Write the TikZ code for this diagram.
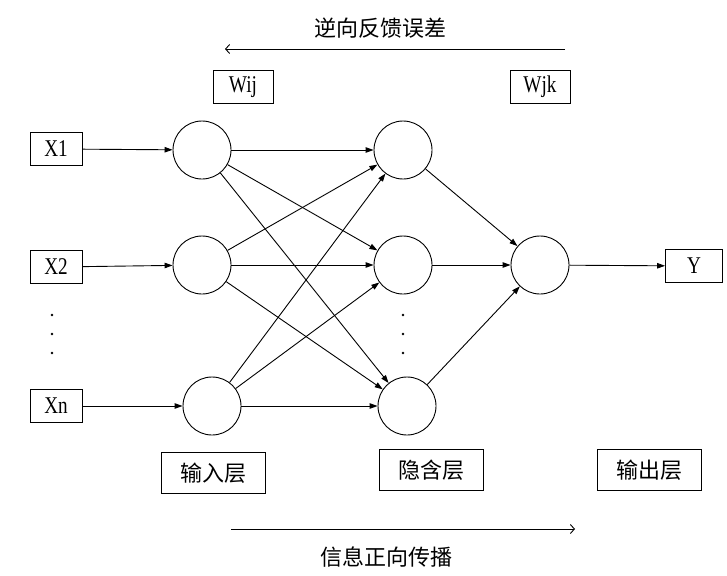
\documentclass[tikz,border=0pt]{standalone}
\usepackage{fontspec}
\setmainfont{Liberation Serif}
\newfontfamily\narrowserif[FakeStretch=0.8]{Liberation Serif}
\newfontfamily\cjk{Noto Sans CJK SC}
\usetikzlibrary{arrows.meta}
\tikzset{
    neuron/.style = {draw, circle, minimum size=58pt, inner sep=0pt},
    var-box/.style = {draw, rectangle, minimum height=33pt, inner sep=2pt, font=\narrowserif\fontsize{24}{24}\selectfont},
    layer-box/.style = {draw, rectangle, minimum width=104pt, minimum height=41pt, font=\cjk\fontsize{22}{22}\selectfont},
    flow-label/.style = {font=\cjk\fontsize{22}{22}\selectfont},
    link/.style = {-{Triangle[length=8pt,width=5.5pt]}},
    flow/.style = {-{Straight Barb[length=4pt,width=9pt]}},
}
\begin{document}
\begin{tikzpicture}[x=1pt, y=-1pt, line width=0.9pt]
\useasboundingbox (0,0) rectangle (727,575);
\node [var-box, minimum width=52pt] (x1) at (56,149) {X1};
\node [var-box, minimum width=52pt] (x2) at (56,267) {X2};
\node [var-box, minimum width=52pt] (xn) at (56,406) {Xn};
\node [neuron] (i1) at (202,150) {};
\node [neuron] (i2) at (202,265) {};
\node [neuron] (i3) at (212,406) {};
\node [neuron] (h1) at (403,150) {};
\node [neuron] (h2) at (403,265) {};
\node [neuron] (h3) at (407,406) {};
\node [neuron] (o) at (540,265) {};
\node [var-box, minimum width=57pt] (y) at (694,266) {Y};
\node [var-box, minimum width=60pt] (wij) at (243,87) {Wij};
\node [var-box, minimum width=60pt] (wjk) at (540,87) {Wjk};
\node [layer-box] (in-layer) at (213,473) {输入层};
\node [layer-box] (hid-layer) at (431,470) {隐含层};
\node [layer-box] (out-layer) at (649,470) {输出层};
\node [flow-label] (back-label) at (380,28) {逆向反馈误差};
\node [flow-label] (fwd-label) at (386,557) {信息正向传播};
\coordinate (back-start) at (565,49);
\coordinate (back-end) at (225,49);
\coordinate (fwd-start) at (231,529);
\coordinate (fwd-end) at (575,529);

\draw [link] (x1) -- (i1);
\draw [link] (x2) -- (i2);
\draw [link] (xn) -- (i3);
\foreach \i in {1,2,3}
    \foreach \j in {1,2,3}
        \draw [link] (i\i) -- (h\j);
\foreach \j in {1,2,3}
    \draw [link] (h\j) -- (o);
\draw [link] (o) -- (y);
\draw [flow] (back-start) -- (back-end);
\draw [flow] (fwd-start) -- (fwd-end);
\foreach \y in {315,334,353} {
    \fill (52,\y) circle (1.3pt);
    \fill (403,\y) circle (1.3pt);
}
\end{tikzpicture}
\end{document}
